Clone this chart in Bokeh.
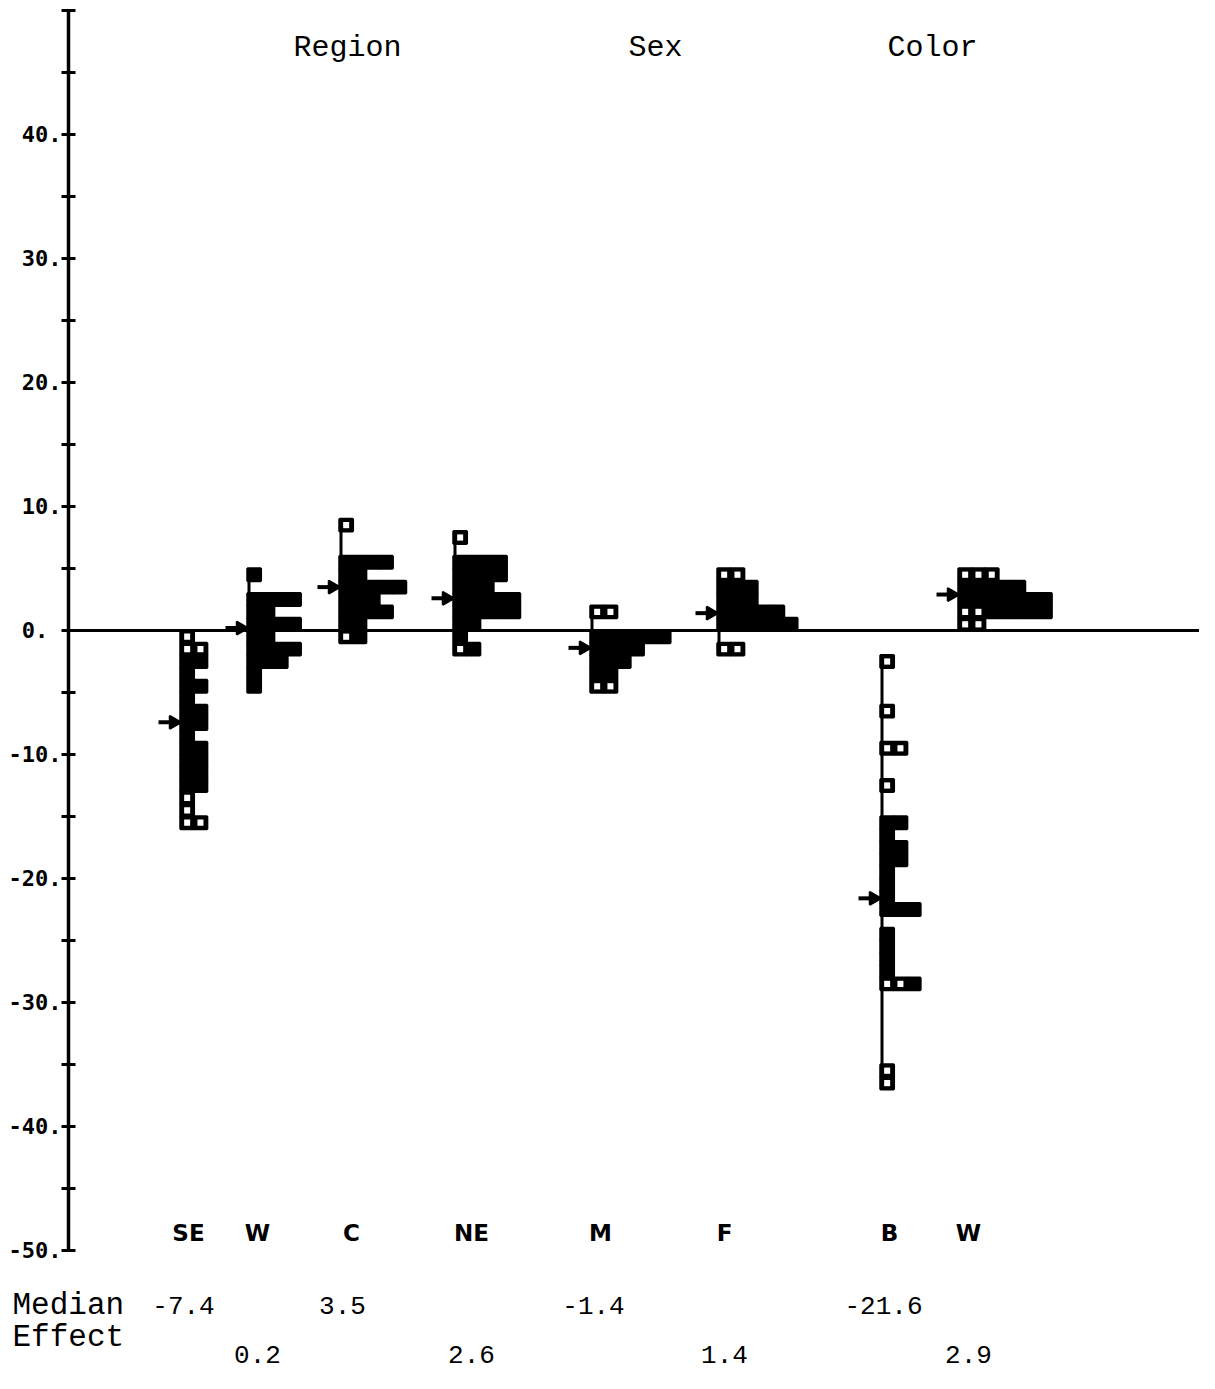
import numpy as np
from bokeh.plotting import figure
from bokeh.models import Range1d, FixedTicker, LinearAxis
from bokeh.core.properties import value
from bokeh.embed import file_html
from bokeh.resources import INLINE

# ---------------- data ----------------
groups = ["SE", "W", "C", "NE", "M", "F", "B", "W"]
factor_titles = ["Region", "Sex", "Color"]
medians = [-7.4, 0.2, 3.5, 2.6, -1.4, 1.4, -21.6, 2.9]
row_texts = ["Median", "Effect"]

tick_values = [-50, -40, -30, -20, -10, 0, 10, 20, 30, 40]
tick_labels = ["-50.", "-40.", "-30.", "-20.", "-10.", "0.\u00a0", "10.", "20.", "30.", "40."]
minor_values = [-45, -35, -25, -15, -5, 5, 15, 25, 35, 45, 50]

# per histogram: upper edge of first unit bin, counts per bin (downwards), hollow squares per bin
SE_top = 0
SE_counts = [1, 2, 2, 1, 2, 1, 2, 2, 1, 2, 2, 2, 2, 1, 1, 2]
SE_open = [1, 2, 0, 0, 0, 0, 0, 0, 0, 0, 0, 0, 0, 1, 1, 2]

WR_top = 5
WR_counts = [1, 0, 4, 2, 4, 2, 4, 3, 1, 1]
WR_open = [0, 0, 0, 0, 0, 0, 0, 0, 0, 0]

C_top = 9
C_counts = [1, 0, 0, 4, 2, 5, 3, 4, 2, 2]
C_open = [1, 0, 0, 0, 0, 0, 0, 0, 0, 1]

NE_top = 8
NE_counts = [1, 0, 4, 4, 3, 5, 5, 2, 1, 2]
NE_open = [1, 0, 0, 0, 0, 0, 0, 0, 0, 1]

M_top = 2
M_counts = [2, 0, 6, 4, 3, 2, 2]
M_open = [2, 0, 0, 0, 0, 0, 2]

F_top = 5
F_counts = [2, 3, 3, 5, 6, 0, 2]
F_open = [2, 0, 0, 0, 0, 0, 2]

B_top = -2
B_counts = [1, 0, 0, 0, 1, 0, 0, 2, 0, 0, 1, 0, 0, 2, 1, 2, 2, 1, 1, 1, 3, 0, 1, 1, 1, 1, 3,
            0, 0, 0, 0, 0, 0, 1, 1]
B_open = [1, 0, 0, 0, 1, 0, 0, 2, 0, 0, 1, 0, 0, 0, 0, 0, 0, 0, 0, 0, 0, 0, 0, 0, 0, 0, 2,
          0, 0, 0, 0, 0, 0, 1, 1]

WC_top = 5
WC_counts = [3, 5, 7, 7, 2]
WC_open = [3, 0, 0, 2, 2]

hist_tops = [SE_top, WR_top, C_top, NE_top, M_top, F_top, B_top, WC_top]
hist_counts = [SE_counts, WR_counts, C_counts, NE_counts, M_counts, F_counts, B_counts, WC_counts]
hist_open = [SE_open, WR_open, C_open, NE_open, M_open, F_open, B_open, WC_open]

# ---------------- layout (x in screen-like units) ----------------
group_x = [180, 247, 339, 453, 590, 717, 880, 958]
label_x = [188, 257, 351, 471, 600, 724, 889, 968]
title_x = [347, 655, 932]
axis_x = 68
cell_w = 13.3

PX = 12.4  # pixels per effect unit
W, H = 1199, 1373
y_top = 630 / PX
y_bot = (630 - H) / PX

def yv(py):
    return (630 - py) / PX

p = figure(width=W, height=H, output_backend="svg", toolbar_location=None,
           x_range=Range1d(0, W), y_range=Range1d(y_bot, y_top),
           x_axis_location=None, y_axis_location=None, min_border=0)
p.outline_line_color = None
p.grid.visible = False
p.background_fill_color = "white"

ax = LinearAxis(fixed_location=axis_x)
ax.bounds = (-50, 50)
ax.ticker = FixedTicker(ticks=tick_values, minor_ticks=minor_values)
ax.major_label_overrides = {v: t for v, t in zip(tick_values, tick_labels)}
ax.axis_line_width = 3.5
ax.axis_line_color = "black"
ax.major_tick_line_width = 3
ax.minor_tick_line_width = 3
ax.major_tick_in = 7
ax.major_tick_out = 7
ax.minor_tick_in = 7
ax.minor_tick_out = 7
ax.major_label_standoff = 0
ax.major_label_text_font = "DejaVu Sans Mono"
ax.major_label_text_font_style = "bold"
ax.major_label_text_font_size = "22px"
ax.major_label_text_color = "black"
p.add_layout(ax, "left")

# horizontal zero line from the axis to the right edge
p.segment(x0=[axis_x], y0=[0], x1=[W], y1=[0], line_color="black", line_width=3)

# cells
cx, cy, hx, hy = [], [], [], []
bx0, by0, by1 = [], [], []
for gx, top, counts, opens in zip(group_x, hist_tops, hist_counts, hist_open):
    for j, (n, no) in enumerate(zip(counts, opens)):
        yc = top - j - 0.5
        for k in range(n):
            xc = gx + (k + 0.5) * cell_w
            cx.append(xc)
            cy.append(yc)
            if k < no:
                hx.append(xc)
                hy.append(yc)
    bx0.append(gx + 1.5)
    by0.append(top)
    by1.append(top - len(counts))

p.segment(x0=bx0, y0=by0, x1=bx0, y1=by1, line_color="black", line_width=3)
p.rect(x=cx, y=cy, width=cell_w, height=1, fill_color="black", line_color="black", line_width=2.5)
p.rect(x=hx, y=hy, width=6, height=0.5, fill_color="white", line_color=None)

# median arrows
p.segment(x0=[g - 22 for g in group_x], y0=medians, x1=[g - 9 for g in group_x], y1=medians,
          line_color="black", line_width=4)
p.scatter(x=[g - 7 for g in group_x], y=medians, marker="triangle", angle=-np.pi / 2,
          size=13, fill_color="black", line_color="black", line_width=2)

# factor titles
p.text(x=title_x, y=[yv(47)] * 3, text=factor_titles, text_align="center",
       text_baseline="middle", text_font=value("Liberation Mono"), text_font_size="30px",
       text_color="black")

# group labels
p.text(x=label_x, y=[yv(1232)] * len(groups), text=groups, text_align="center",
       text_baseline="middle", text_font=value("DejaVu Sans"), text_font_style="bold",
       text_font_size="23px", text_color="black")

# median values, staggered in two rows
mtx = [group_x[i] + 3 if i % 2 == 0 else label_x[i] for i in range(len(groups))]
mty = [yv(1305) if i % 2 == 0 else yv(1354) for i in range(len(groups))]
p.text(x=mtx, y=mty, text=["%.1f" % m for m in medians], text_align="center",
       text_baseline="middle", text_font=value("Liberation Mono"), text_font_size="26px",
       text_color="black")

p.text(x=[12, 12], y=[yv(1305), yv(1337)], text=row_texts, text_align="left",
       text_baseline="middle", text_font=value("Liberation Mono"), text_font_size="31px",
       text_color="black")

open("out.html", "w").write(file_html(p, INLINE))
